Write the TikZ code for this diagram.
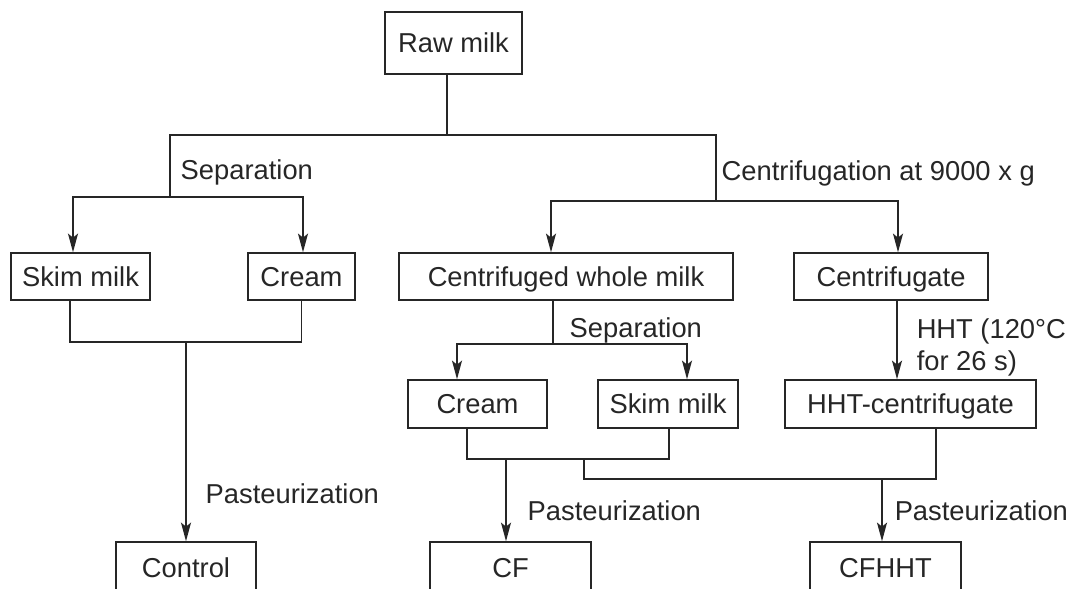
\documentclass[tikz,border=0pt]{standalone}
\usepackage{fontspec}
\setmainfont{Liberation Sans}
\usetikzlibrary{arrows.meta}
\def\px{0.75pt}
\tikzstyle{box}=[draw, inner sep=0pt, minimum height=47*\px, text height=14.7pt, text depth=0pt, font=\fontsize{20.5}{24}\selectfont]
\tikzstyle{note}=[anchor=base west, inner sep=0pt, font=\fontsize{20.5}{24}\selectfont]
\tikzstyle{flow}=[-{Stealth[length=14pt, width=7.5pt, inset=3pt]}]

\begin{document}
\begin{tikzpicture}[x=\px, y=-\px, line width=1.1pt, color=black!85]
		\useasboundingbox (0,0) rectangle (1069,588);
		\clip (0,0) rectangle (1069,588);

		% Draw the boxes
		\node[box, minimum width=137*\px, minimum height=62*\px] (raw) at (453.5,43) {Raw milk};
		\node[box, minimum width=139*\px] (skimA) at (80.5,276.5) {Skim milk};
		\node[box, minimum width=107*\px] (creamA) at (301.5,276.5) {Cream};
		\node[box, minimum width=334*\px] (whole) at (566,276.5) {Centrifuged whole milk};
		\node[box, minimum width=194*\px] (cfug) at (891,276.5) {Centrifugate};
		\node[box, minimum width=139*\px, minimum height=48*\px] (creamB) at (477.5,404) {Cream};
		\node[box, minimum width=140*\px, minimum height=48*\px] (skimB) at (668,404) {Skim milk};
		\node[box, minimum width=251*\px, minimum height=48*\px] (hhtc) at (910.5,404) {HHT-centrifugate};
		% bottom row runs off the page
		\node[box, minimum width=140*\px, minimum height=52*\px] (control) at (186,568) {Control};
		\node[box, minimum width=161*\px, minimum height=52*\px] (cf) at (510.5,568) {CF};
		\node[box, minimum width=151*\px, minimum height=52*\px] (cfhht) at (885.5,568) {CFHHT};

		% Junctions
		\coordinate (split) at (447,135);
		\coordinate (sepL) at (170,197);
		\coordinate (sepR) at (716,201);
		\coordinate (joinL) at (186,342);
		\coordinate (sepM) at (553,344);
		\coordinate (joinM) at (506,459);
		\coordinate (link) at (584,459);
		\coordinate (joinR) at (882,479);

		% Raw milk splits in two
		\draw (raw.south -| split) -- (split);
		\draw (sepL) |- (split) -| (sepR);
		\draw[flow] (sepL) -| ([xshift=-7.5*\px]skimA.north);
		\draw[flow] (sepL) -| ([xshift=1.5*\px]creamA.north);
		\draw[flow] (sepR) -| ([xshift=-15*\px]whole.north);
		\draw[flow] (sepR) -| ([xshift=7*\px]cfug.north);

		% Control
		\draw ([xshift=-10.5*\px]skimA.south) |- (joinL) -| (creamA.south);
		\draw[flow] (joinL) -- (joinL |- control.north);

		% Centrifuged whole milk and centrifugate
		\draw ([xshift=-13*\px]whole.south) -- (sepM);
		\draw[flow] (sepM) -| ([xshift=-20.5*\px]creamB.north);
		\draw[flow] (sepM) -| ([xshift=19*\px]skimB.north);
		\draw[flow] ([xshift=6*\px]cfug.south) -- ([xshift=-13.5*\px]hhtc.north);

		% CF and CFHHT
		\draw ([xshift=-10.5*\px]creamB.south) |- (joinM) -| ([xshift=1*\px]skimB.south);
		\draw[flow] (joinM) -- (joinM |- cf.north);
		\draw (link) |- (joinR) -| ([xshift=25.5*\px]hhtc.south);
		\draw[flow] (joinR) -- (joinR |- cfhht.north);

		% Annotate the steps
		\node[note] (sepLtxt) at (180,179) {Separation};
		\node[note] (centtxt) at (721,180) {Centrifugation at 9000 x g};
		\node[note] (sepMtxt) at (569,337) {Separation};
		\node[note] (hhtA) at (916,338) {HHT (120°C};
		\node[note] (hhtB) at (916,370) {for 26 s)};
		\node[note] (pastL) at (205,503) {Pasteurization};
		\node[note] (pastM) at (527,520) {Pasteurization};
		\node[note] (pastR) at (894,520) {Pasteurization};
	\end{tikzpicture}
\end{document}
